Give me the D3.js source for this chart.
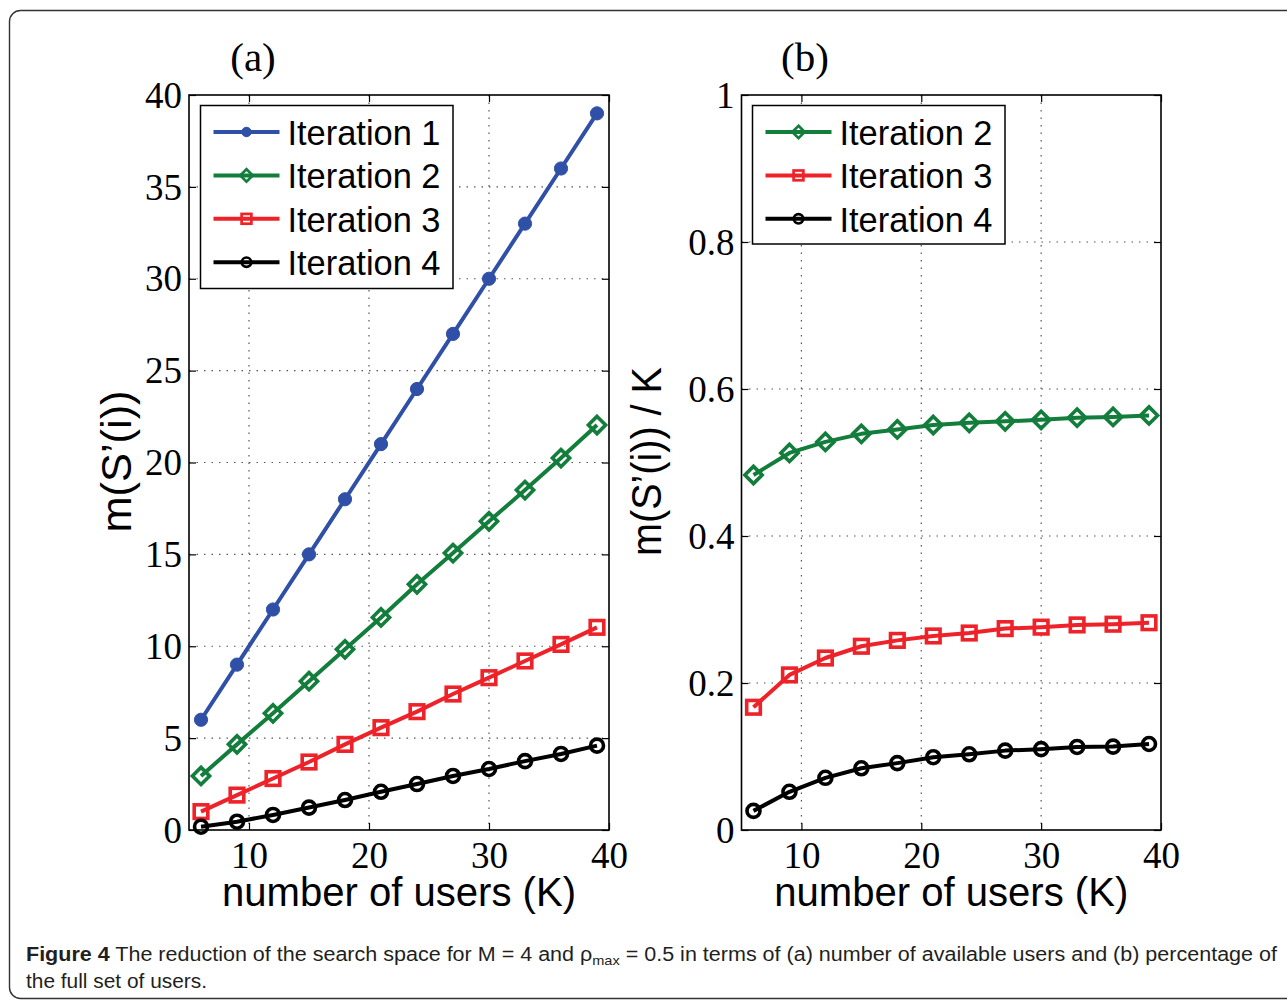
<!DOCTYPE html>
<html><head><meta charset="utf-8">
<script src="https://cdn.jsdelivr.net/npm/d3@7"></script>
<style>html,body{margin:0;padding:0;background:#fff;}svg{display:block;}</style>
</head><body>
<svg id="c" width="1287" height="1001"></svg>
<script>
// ---------- data ----------
const users = [6, 9, 12, 15, 18, 21, 24, 27, 30, 33, 36, 39];
const seriesNamesA = ["Iteration 1", "Iteration 2", "Iteration 3", "Iteration 4"];
const seriesNamesB = ["Iteration 2", "Iteration 3", "Iteration 4"];
// panel (a): m(S'(i))
const iter1A = [6, 9, 12, 15, 18, 21, 24, 27, 30, 33, 36, 39];
const iter2A = [2.94, 4.66, 6.35, 8.1, 9.83, 11.57, 13.37, 15.07, 16.8, 18.5, 20.24, 22.04];
const iter3A = [1.0, 1.9, 2.8, 3.7, 4.66, 5.57, 6.44, 7.4, 8.29, 9.2, 10.1, 11.03];
const iter4A = [0.18, 0.45, 0.82, 1.22, 1.63, 2.08, 2.5, 2.94, 3.32, 3.75, 4.14, 4.59];
// panel (b): m(S'(i)) / K
const iter2B = [0.483, 0.513, 0.528, 0.539, 0.545, 0.551, 0.554, 0.556, 0.558, 0.561, 0.562, 0.564];
const iter3B = [0.167, 0.211, 0.234, 0.250, 0.258, 0.264, 0.268, 0.274, 0.276, 0.279, 0.280, 0.282];
const iter4B = [0.026, 0.052, 0.071, 0.084, 0.091, 0.099, 0.103, 0.108, 0.110, 0.113, 0.1135, 0.117];
// ticks
const xTicks = [10, 20, 30, 40];
const yTicksA = [0, 5, 10, 15, 20, 25, 30, 35, 40];
const yTicksB = [0, 0.2, 0.4, 0.6, 0.8, 1];
const panelTitles = ["(a)", "(b)"];
const xLabel = "number of users (K)";
const yLabelA = "m(S\u2019(i))";
const yLabelB = "m(S\u2019(i)) / K";

const colors = {"Iteration 1": "#2f50a6", "Iteration 2": "#137d3c", "Iteration 3": "#ee2229", "Iteration 4": "#000000"};
const markers = {"Iteration 1": "dot", "Iteration 2": "diamond", "Iteration 3": "square", "Iteration 4": "circle"};

const svg = d3.select("#c");
const serif = "'Liberation Serif','Times New Roman',serif";
const sans = "'Liberation Sans',Arial,Helvetica,sans-serif";

// outer frame
svg.append("rect").attr("x", 9.5).attr("y", 10.5).attr("width", 1300).attr("height", 988)
  .attr("rx", 11).attr("fill", "none").attr("stroke", "#333").attr("stroke-width", 1.4);

function drawMarker(g, type, cx, cy, color, s) {
  const sw = 3.6 * Math.max(s, 0.75);
  if (type === "dot") {
    g.append("circle").attr("cx", cx).attr("cy", cy).attr("r", 6.6 * s).attr("fill", color).attr("stroke", color).attr("stroke-width", 1);
  } else if (type === "circle") {
    g.append("circle").attr("cx", cx).attr("cy", cy).attr("r", 6.5 * s).attr("fill", "none").attr("stroke", color).attr("stroke-width", sw);
  } else if (type === "square") {
    const h = 6.8 * s;
    g.append("rect").attr("x", cx - h).attr("y", cy - h).attr("width", 2 * h).attr("height", 2 * h)
      .attr("fill", "none").attr("stroke", color).attr("stroke-width", sw);
  } else if (type === "diamond") {
    const h = 8.6 * s;
    g.append("path").attr("d", `M${cx},${cy - h}L${cx + h},${cy}L${cx},${cy + h}L${cx - h},${cy}Z`)
      .attr("fill", "none").attr("stroke", color).attr("stroke-width", sw);
  }
}

function panel(opts) {
  const {x0, x1, y0, y1, yDomain, yTicks, yFmt, series, names, title, titleX, ylab, ylabX, ylabLen, ylabSize, legend} = opts;
  const x = d3.scaleLinear().domain([5, 40]).range([x0, x1]);
  const y = d3.scaleLinear().domain(yDomain).range([y1, y0]);
  const g = svg.append("g");

  // grid
  const grid = g.append("g").attr("stroke", "#555").attr("stroke-width", 1.2).attr("stroke-dasharray", "1.5,6");
  xTicks.filter(t => t < 40).forEach(t => grid.append("line").attr("x1", x(t)).attr("x2", x(t)).attr("y1", y0).attr("y2", y1));
  yTicks.slice(1, -1).forEach(t => grid.append("line").attr("x1", x0).attr("x2", x1).attr("y1", y(t)).attr("y2", y(t)));

  // axes
  const ax = g.append("g").attr("transform", `translate(0,${y1})`)
    .call(d3.axisBottom(x).tickValues(xTicks).tickSize(-7).tickSizeOuter(0).tickPadding(12).tickFormat(d3.format("d")));
  const axT = g.append("g").attr("transform", `translate(0,${y0})`)
    .call(d3.axisTop(x).tickValues(xTicks).tickSize(-7).tickSizeOuter(0).tickFormat(""));
  const ay = g.append("g").attr("transform", `translate(${x0},0)`)
    .call(d3.axisLeft(y).tickValues(yTicks).tickSize(-7).tickSizeOuter(0).tickPadding(7).tickFormat(yFmt));
  const ayR = g.append("g").attr("transform", `translate(${x1},0)`)
    .call(d3.axisRight(y).tickValues(yTicks).tickSize(-7).tickSizeOuter(0).tickFormat(""));
  [ax, axT, ay, ayR].forEach(a => {
    a.select(".domain").remove();
    a.selectAll(".tick line").attr("stroke", "#000").attr("stroke-width", 1.2);
    a.selectAll("text").attr("font-family", serif).attr("font-size", 37).attr("fill", "#000");
  });
  ay.selectAll("text").attr("dy", "0.33em");
  ax.selectAll("text").attr("dy", "0.7em");

  // box
  g.append("rect").attr("x", x0).attr("y", y0).attr("width", x1 - x0).attr("height", y1 - y0)
    .attr("fill", "none").attr("stroke", "#000").attr("stroke-width", 1.6);

  // series
  const line = d3.line().x((d, i) => x(users[i])).y(d => y(d));
  series.forEach((vals, k) => {
    const nm = names[k];
    g.append("path").datum(vals).attr("d", line).attr("fill", "none")
      .attr("stroke", colors[nm]).attr("stroke-width", 4).attr("stroke-linejoin", "round");
    const mg = g.append("g");
    vals.forEach((v, i) => drawMarker(mg, markers[nm], x(users[i]), y(v), colors[nm], 1));
  });

  // title
  svg.append("text").attr("x", titleX).attr("y", 71).attr("text-anchor", "middle")
    .attr("font-family", serif).attr("font-size", 41).text(title);

  // x label
  svg.append("text").attr("x", (x0 + x1) / 2).attr("y", 906).attr("text-anchor", "middle")
    .attr("font-family", sans).attr("font-size", 40).attr("textLength", 354).attr("lengthAdjust", "spacingAndGlyphs").text(xLabel);

  // y label
  svg.append("text").attr("transform", `translate(${ylabX},${(y0 + y1) / 2 - 1}) rotate(-90)`)
    .attr("text-anchor", "middle").attr("font-family", sans).attr("font-size", ylabSize)
    .attr("textLength", ylabLen).attr("lengthAdjust", "spacingAndGlyphs").text(ylab);

  // legend
  const lg = svg.append("g");
  lg.append("rect").attr("x", legend.x).attr("y", legend.y).attr("width", legend.w).attr("height", legend.h)
    .attr("fill", "#fff").attr("stroke", "#000").attr("stroke-width", 1.5);
  names.forEach((nm, k) => {
    const cy = legend.y + 26.5 + k * 43.4;
    lg.append("line").attr("x1", legend.x + 13).attr("x2", legend.x + 79).attr("y1", cy).attr("y2", cy)
      .attr("stroke", colors[nm]).attr("stroke-width", 4);
    drawMarker(lg, markers[nm], legend.x + 46, cy, colors[nm], 0.72);
    lg.append("text").attr("x", legend.x + 87).attr("y", cy + 13).attr("font-family", sans)
      .attr("font-size", 35).attr("textLength", 153).attr("lengthAdjust", "spacingAndGlyphs").text(nm);
  });
}

panel({x0: 189, x1: 609, y0: 95, y1: 830, yDomain: [0, 40], yTicks: yTicksA, yFmt: d3.format("d"),
  series: [iter1A, iter2A, iter3A, iter4A], names: seriesNamesA, title: panelTitles[0], titleX: 253,
  ylab: yLabelA, ylabX: 131, ylabLen: 142, ylabSize: 43,
  legend: {x: 200.5, y: 105.5, w: 252.5, h: 183}});
panel({x0: 741.5, x1: 1161, y0: 95, y1: 830, yDomain: [0, 1], yTicks: yTicksB, yFmt: d => String(d),
  series: [iter2B, iter3B, iter4B], names: seriesNamesB, title: panelTitles[1], titleX: 805,
  ylab: yLabelB, ylabX: 661, ylabLen: 189, ylabSize: 43,
  legend: {x: 752.5, y: 105.5, w: 252.5, h: 138.5}});

// caption
const cap = svg.append("text").attr("x", 26).attr("y", 961).attr("font-family", sans).attr("font-size", 20)
  .attr("fill", "#231f20").attr("textLength", 1251).attr("lengthAdjust", "spacingAndGlyphs");
cap.append("tspan").attr("font-weight", "bold").text("Figure 4");
cap.append("tspan").text(" The reduction of the search space for M = 4 and \u03c1");
cap.append("tspan").attr("font-size", 13.5).attr("dy", 4).text("max");
cap.append("tspan").attr("dy", -4).text(" = 0.5 in terms of (a) number of available users and (b) percentage of");
svg.append("text").attr("x", 26).attr("y", 988).attr("font-family", sans).attr("font-size", 20)
  .attr("fill", "#231f20").attr("textLength", 181).attr("lengthAdjust", "spacingAndGlyphs").text("the full set of users.");
</script>
</body></html>
